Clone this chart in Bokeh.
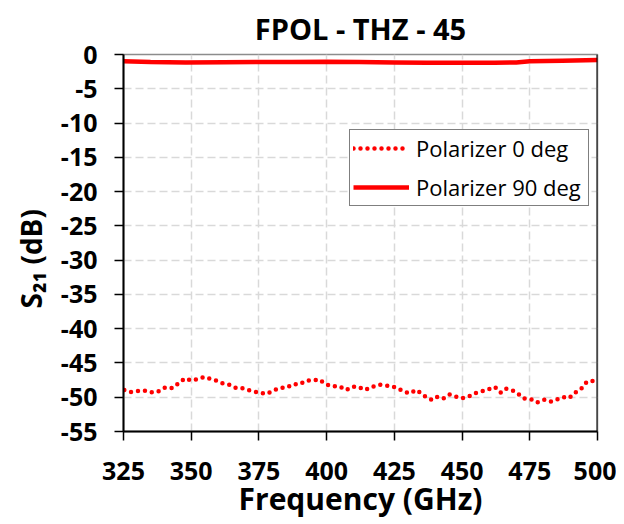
from bokeh.plotting import figure
from bokeh.models import (FixedTicker, Legend, LegendItem, Span, Range1d, Title)
from bokeh.embed import file_html
from bokeh.resources import INLINE

# ---- data ----
freq_0deg = [325.3, 327.8, 330.5, 333.3, 335.6, 338.2, 340.5, 343.1, 345.3, 347.7,
             350.1, 352.6, 354.8, 357.3, 359.5, 361.7, 364.3, 366.6, 368.9, 371.4,
             373.6, 376.1, 377.9, 380.2, 382.6, 385.2, 387.6, 390.1, 392.3, 394.8,
             397.2, 399.7, 402.0, 404.6, 407.2, 409.4, 411.6, 414.2, 416.9, 419.4,
             421.7, 423.9, 426.1, 428.4, 430.6, 433.2, 435.4, 437.2, 439.0, 440.9,
             443.1, 445.3, 447.6, 449.8, 452.4, 454.8, 456.9, 459.6, 462.1, 464.3,
             466.2, 468.6, 470.7, 472.9, 475.5, 477.7, 480.3, 482.6, 485.1, 487.4,
             489.5, 491.7, 494.1, 496.1, 498.9]
s21_0deg = [-48.95, -49.24, -49.1, -49.05, -49.3, -49.1, -48.57, -48.66, -47.98, -47.25,
            -47.55, -47.35, -47.05, -47.35, -47.6, -47.98, -48.2, -48.66, -48.7, -49.0,
            -49.2, -49.4, -49.5, -49.05, -48.66, -48.6, -48.1, -48.1, -47.6, -47.55,
            -47.4, -48.1, -48.4, -48.4, -48.95, -48.47, -48.47, -48.95, -48.47, -48.17,
            -48.3, -48.37, -48.66, -49.15, -49.44, -48.95, -49.6, -50.1, -50.4, -49.93,
            -50.17, -49.6, -49.9, -50.17, -49.9, -49.4, -49.2, -48.86, -48.5, -49.34,
            -48.76, -49.0, -49.5, -50.17, -50.3, -50.76, -50.37, -50.66, -50.3, -49.97,
            -50.12, -49.34, -48.7, -47.74, -47.6]

freq_90deg = [325, 335, 348, 362, 375, 387, 400, 412, 425, 437, 450, 462, 470, 475, 487, 500]
s21_90deg = [-1.0, -1.1, -1.17, -1.12, -1.1, -1.08, -1.07, -1.1, -1.15, -1.2, -1.22, -1.2,
             -1.17, -1.0, -0.9, -0.8]

x_ticks = [325, 350, 375, 400, 425, 450, 475, 500]
y_ticks = [0, -5, -10, -15, -20, -25, -30, -35, -40, -45, -50, -55]
y_tick_labels = ["0", "-5", "-10", "-15", "-20", "-25", "-30", "-35", "-40", "-45", "-50", "-55"]

title_text = "FPOL - THZ - 45"
x_label = "Frequency (GHz)"
y_label = "S\u2082\u2081 (dB)"
legend_labels = ["Polarizer 0 deg", "Polarizer 90 deg"]

FONT = "Open Sans"
RED = "#ff0000"

p = figure(frame_width=474, frame_height=377,
           x_range=Range1d(325, 500), y_range=Range1d(-55, 0),
           output_backend="svg", toolbar_location=None,
           min_border_left=123, min_border_right=19,
           min_border_top=54, min_border_bottom=93,
           background_fill_color="white", border_fill_color="white")

p.title.text = title_text
p.title.align = "center"
p.title.text_font = FONT
p.title.text_font_size = "29px"
p.title.text_font_style = "bold"
p.title.text_color = "black"
p.title.standoff = 13

# axes
for ax in (p.xaxis[0], p.yaxis[0]):
    ax.axis_line_color = "black"
    ax.axis_line_width = 2
    ax.major_tick_line_color = "black"
    ax.major_tick_line_width = 1.5
    ax.major_tick_out = 9
    ax.major_tick_in = 0
    ax.minor_tick_line_color = None
    ax.major_label_text_font = FONT
    ax.major_label_text_font_size = "25px"
    ax.major_label_text_font_style = "bold"
    ax.major_label_text_color = "black"

p.xaxis.major_label_standoff = 21
p.yaxis.major_label_standoff = 17
p.xaxis.ticker = FixedTicker(ticks=x_ticks)
p.yaxis.ticker = FixedTicker(ticks=y_ticks)
p.yaxis.major_label_overrides = {t: s for t, s in zip(y_ticks, y_tick_labels)}
p.xaxis.axis_label = x_label
p.xaxis.axis_label_text_font = FONT
p.xaxis.axis_label_text_font_size = "30px"
p.xaxis.axis_label_text_font_style = "bold"
p.xaxis.axis_label_text_color = "black"
p.xaxis.axis_label_standoff = -5

# y axis title as a left-side title
ytitle = Title(text=y_label, align="left", offset=123, text_font=FONT,
               text_font_size="28px", text_font_style="bold", text_color="black",
               standoff=15)
p.add_layout(ytitle, "left")

# grid
p.grid.grid_line_color = "#d9d9d9"
p.grid.grid_line_width = 1.5
p.grid.grid_line_dash = "8 4"
p.outline_line_color = "#8c8c8c"
p.outline_line_width = 1.5

p.add_layout(Span(location=500, dimension="height", line_color="black", line_width=2))

# series
r0 = p.line(freq_0deg, s21_0deg, line_color=RED, line_width=4.5,
            line_dash="0 7", line_cap="round")
r90 = p.line(freq_90deg, s21_90deg, line_color=RED, line_width=4.5)

legend = Legend(items=[LegendItem(label=legend_labels[0], renderers=[r0]),
                       LegendItem(label=legend_labels[1], renderers=[r90])],
                location=(226, 225),
                border_line_color="black", border_line_width=1,
                background_fill_color="white", background_fill_alpha=1,
                label_text_font=FONT, label_text_font_size="22px",
                label_text_color="black",
                glyph_width=56, glyph_height=26, label_height=26,
                label_width=169, label_standoff=7,
                padding=3, spacing=9, margin=0)
p.add_layout(legend, "center")

open("out.html", "w").write(file_html(p, INLINE))
